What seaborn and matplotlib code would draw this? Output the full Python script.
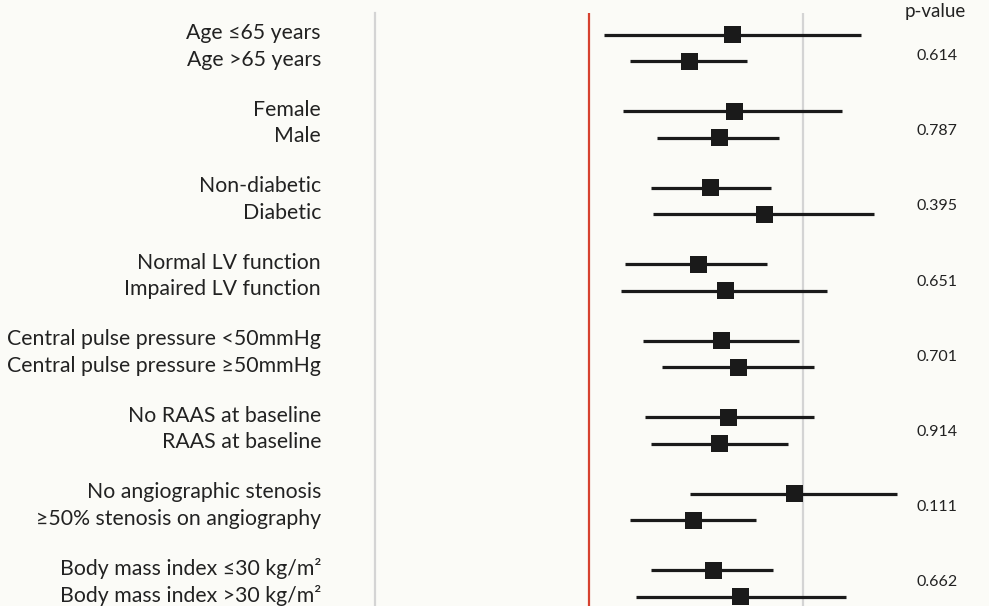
import matplotlib
matplotlib.use("Agg")
import matplotlib.pyplot as plt
import matplotlib.transforms as mtransforms
import seaborn as sns
import pandas as pd

# ---- data ----
labels = [
    "Age ≤65 years", "Age >65 years",
    "Female", "Male",
    "Non-diabetic", "Diabetic",
    "Normal LV function", "Impaired LV function",
    "Central pulse pressure <50mmHg", "Central pulse pressure ≥50mmHg",
    "No RAAS at baseline", "RAAS at baseline",
    "No angiographic stenosis", "≥50% stenosis on angiography",
    "Body mass index ≤30 kg/m²", "Body mass index >30 kg/m²",
]
estimate = [0.67, 0.47, 0.68, 0.61, 0.57, 0.82, 0.51, 0.64,
            0.62, 0.70, 0.65, 0.61, 0.96, 0.49, 0.58, 0.71]
ci_low = [0.07, 0.19, 0.16, 0.32, 0.29, 0.30, 0.17, 0.15,
          0.25, 0.34, 0.26, 0.29, 0.47, 0.19, 0.29, 0.22]
ci_high = [1.27, 0.74, 1.18, 0.89, 0.85, 1.33, 0.83, 1.11,
           0.98, 1.05, 1.05, 0.93, 1.44, 0.78, 0.86, 1.20]
p_values = ["0.614", "0.787", "0.395", "0.651", "0.701", "0.914", "0.111", "0.662"]

# ---- layout ----
GROUP_STEP = 2.887
pos = [(i // 2) * GROUP_STEP + (i % 2) for i in range(len(labels))]
df = pd.DataFrame({"label": labels, "est": estimate, "lo": ci_low,
                   "hi": ci_high, "y": pos})

sns.set_theme(style="white")
plt.rcParams["font.family"] = ["Lato", "DejaVu Sans"]
bg = "#fbfbf7"
txt = "#222222"

fig = plt.figure(figsize=(9.89, 6.06), dpi=100, facecolor=bg)
ax = fig.add_axes([375 / 989, 0.0, 535 / 989, 593 / 606])
ax.set_facecolor(bg)

# reference lines
ax.axvline(0, color="#d6412f", lw=1.6, zorder=1)
ax.axvline(1, color="#d4d4d4", lw=1.6, zorder=1)

# confidence intervals and point estimates
ax.hlines(df["y"], df["lo"], df["hi"], color="#1a1a1a", lw=2.3, zorder=2)
sns.scatterplot(data=df, x="est", y="y", marker="s", s=150, color="#1a1a1a",
                edgecolor="none", ax=ax, zorder=3, legend=False)

ax.set_xlim(-1.0, 1.5)
ax.set_ylim(pos[-1] + 0.34, -0.83)
ax.set_xlabel("")
ax.set_ylabel("")
ax.set_xticks([])
ax.set_yticks([])

for s in ["top", "right", "bottom"]:
    ax.spines[s].set_visible(False)
ax.spines["left"].set_color("#d4d4d4")
ax.spines["left"].set_linewidth(1.6)

# row labels (slightly above the marker row)
lab_tr = mtransforms.blended_transform_factory(ax.transAxes, ax.transData) + \
    mtransforms.ScaledTranslation(0, 1.5 / 100, fig.dpi_scale_trans)
for y, lab in zip(df["y"], df["label"]):
    ax.text((321 - 375) / 535, y, lab, transform=lab_tr, ha="right",
            va="center", fontsize=15.3, color=txt, clip_on=False)

# p-values
p_tr = mtransforms.blended_transform_factory(fig.transFigure, ax.transData)
for g, p in enumerate(p_values):
    yc = 0.8 + g * 2.836
    ax.text(937 / 989, yc, p, transform=p_tr, ha="center", va="center",
            fontsize=11.5, color=txt)
fig.text(935 / 989, 1 - 11 / 606, "p-value", ha="center", va="center",
         fontsize=13.5, color=txt)

fig.savefig("out.png", dpi=100, facecolor=bg)
